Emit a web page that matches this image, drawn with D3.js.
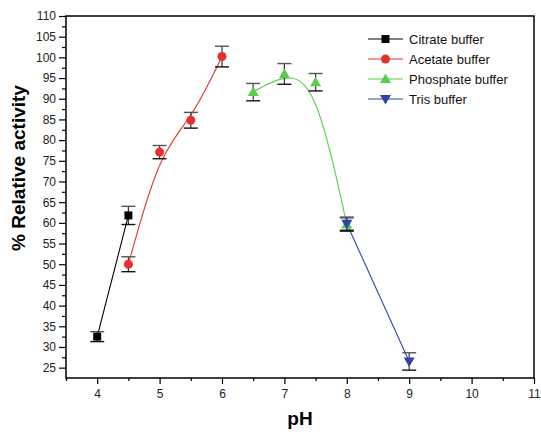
<!DOCTYPE html>
<html>
<head>
<meta charset="utf-8">
<script src="https://cdn.jsdelivr.net/npm/d3@7"></script>
<style>
  body { margin: 0; background: #fff; }
  svg { display: block; font-family: "Liberation Sans", Arial, sans-serif; }
</style>
</head>
<body>
<div id="chart"></div>
<script>
// --- Data ---
const seriesNames = ['Citrate buffer', 'Acetate buffer', 'Phosphate buffer', 'Tris buffer'];
const citratePH = [4, 4.5];
const citrateAct = [32.5, 61.8];
const citrateErr = [1.2, 2.2];
const acetatePH = [4.5, 5, 5.5, 6];
const acetateAct = [50.0, 77.1, 84.8, 100.2];
const acetateErr = [1.8, 1.6, 1.9, 2.5];
const phosphatePH = [6.5, 7, 7.5, 8];
const phosphateAct = [91.6, 96.0, 94.0, 59.6];
const phosphateErr = [2.1, 2.5, 2.1, 1.6];
const trisPH = [8, 9];
const trisAct = [59.8, 26.5];
const trisErr = [1.6, 2.1];
const xTicks = [4, 5, 6, 7, 8, 9, 10, 11];
const yTicks = d3.range(25, 111, 5);

const series = [
    { name: seriesNames[0], x: citratePH, y: citrateAct, e: citrateErr, color: '#000000', symbol: 'square', curve: d3.curveLinear },
    { name: seriesNames[1], x: acetatePH, y: acetateAct, e: acetateErr, color: '#e8302a', symbol: 'circle', curve: d3.curveBasis },
    { name: seriesNames[2], x: phosphatePH, y: phosphateAct, e: phosphateErr, color: '#5ccc4e', symbol: 'up', curve: d3.curveBasis },
    { name: seriesNames[3], x: trisPH, y: trisAct, e: trisErr, color: '#2e45a8', symbol: 'down', curve: d3.curveLinear }
];

// --- Layout ---
const W = 541, H = 432;
const margin = { top: 16, right: 7, bottom: 54, left: 66 };
const width = W - margin.left - margin.right;
const height = H - margin.top - margin.bottom;

const svg = d3.select('#chart').append('svg')
    .attr('width', W).attr('height', H);
const g = svg.append('g').attr('transform', `translate(${margin.left},${margin.top})`);

const x = d3.scaleLinear().domain([3.5, 11]).range([0, width]);
const y = d3.scaleLinear().domain([22.5, 110]).range([height, 0]);

// axes
const xAxis = g.append('g').attr('transform', `translate(0,${height})`)
    .call(d3.axisBottom(x).tickValues(xTicks).tickSize(6).tickPadding(5).tickFormat(d3.format('d')));
g.append('g').attr('transform', `translate(0,${height})`)
    .call(d3.axisBottom(x).tickValues(d3.range(3.5, 11, 1)).tickSize(3).tickFormat(''));
const yAxis = g.append('g')
    .call(d3.axisLeft(y).tickValues(yTicks).tickSize(7).tickPadding(3));
g.append('g')
    .call(d3.axisLeft(y).tickValues(d3.range(27.5, 110, 5)).tickSize(4).tickFormat(''));

g.selectAll('.domain').remove();
g.selectAll('.tick line').attr('stroke', '#000').attr('stroke-width', 1.2);
g.selectAll('.tick text').attr('font-size', 12).attr('fill', '#222').attr('font-family', '"Liberation Sans", Arial, sans-serif');

// frame
g.append('rect').attr('width', width).attr('height', height)
    .attr('fill', 'none').attr('stroke', '#000').attr('stroke-width', 1.5);

// axis titles
svg.append('text')
    .attr('x', margin.left + width / 2).attr('y', 425)
    .attr('text-anchor', 'middle').attr('font-size', 19).attr('font-weight', 'bold')
    .text('pH');
svg.append('text')
    .attr('transform', `translate(25,168) rotate(-90)`)
    .attr('text-anchor', 'middle').attr('font-size', 19).attr('font-weight', 'bold')
    .text('% Relative activity');

// symbols
function drawSymbol(sel, type, color, cx, cy) {
    if (type === 'square') {
        sel.append('rect').attr('x', cx - 4).attr('y', cy - 4).attr('width', 8).attr('height', 8).attr('fill', color);
    } else if (type === 'circle') {
        sel.append('circle').attr('cx', cx).attr('cy', cy).attr('r', 4.5).attr('fill', color);
    } else if (type === 'up') {
        sel.append('path').attr('d', `M${cx},${cy - 5.5}L${cx + 5.5},${cy + 4}L${cx - 5.5},${cy + 4}Z`).attr('fill', color);
    } else {
        sel.append('path').attr('d', `M${cx},${cy + 5.5}L${cx + 5.5},${cy - 4}L${cx - 5.5},${cy - 4}Z`).attr('fill', color);
    }
}

// lines
series.forEach(s => {
    const pts = s.x.map((v, i) => [v, s.y[i]]);
    g.append('path').datum(pts)
        .attr('fill', 'none').attr('stroke', s.color).attr('stroke-width', 1.1)
        .attr('d', d3.line().x(d => x(d[0])).y(d => y(d[1])).curve(s.curve));
});

// error bars
series.forEach(s => {
    s.x.forEach((v, i) => {
        const cx = x(v), top = y(s.y[i] + s.e[i]), bot = y(s.y[i] - s.e[i]);
        g.append('line').attr('x1', cx).attr('x2', cx).attr('y1', top).attr('y2', bot)
            .attr('stroke', '#333').attr('stroke-width', 1.2);
        g.append('line').attr('x1', cx - 7).attr('x2', cx + 7).attr('y1', top).attr('y2', top)
            .attr('stroke', '#555').attr('stroke-width', 1.4);
        g.append('line').attr('x1', cx - 7).attr('x2', cx + 7).attr('y1', bot).attr('y2', bot)
            .attr('stroke', '#111').attr('stroke-width', 1.4);
    });
});

// markers
series.forEach(s => {
    s.x.forEach((v, i) => drawSymbol(g, s.symbol, s.color, x(v), y(s.y[i])));
});

// legend
const legend = svg.append('g');
series.forEach((s, i) => {
    const ly = 39 + i * 20;
    legend.append('line').attr('x1', 368).attr('x2', 403).attr('y1', ly).attr('y2', ly)
        .attr('stroke', s.color).attr('stroke-width', 1.1);
    drawSymbol(legend, s.symbol, s.color, 385.5, ly);
    legend.append('text').attr('x', 409).attr('y', ly + 4.5)
        .attr('font-size', 13).attr('fill', '#111').text(s.name);
});
</script>
</body>
</html>
